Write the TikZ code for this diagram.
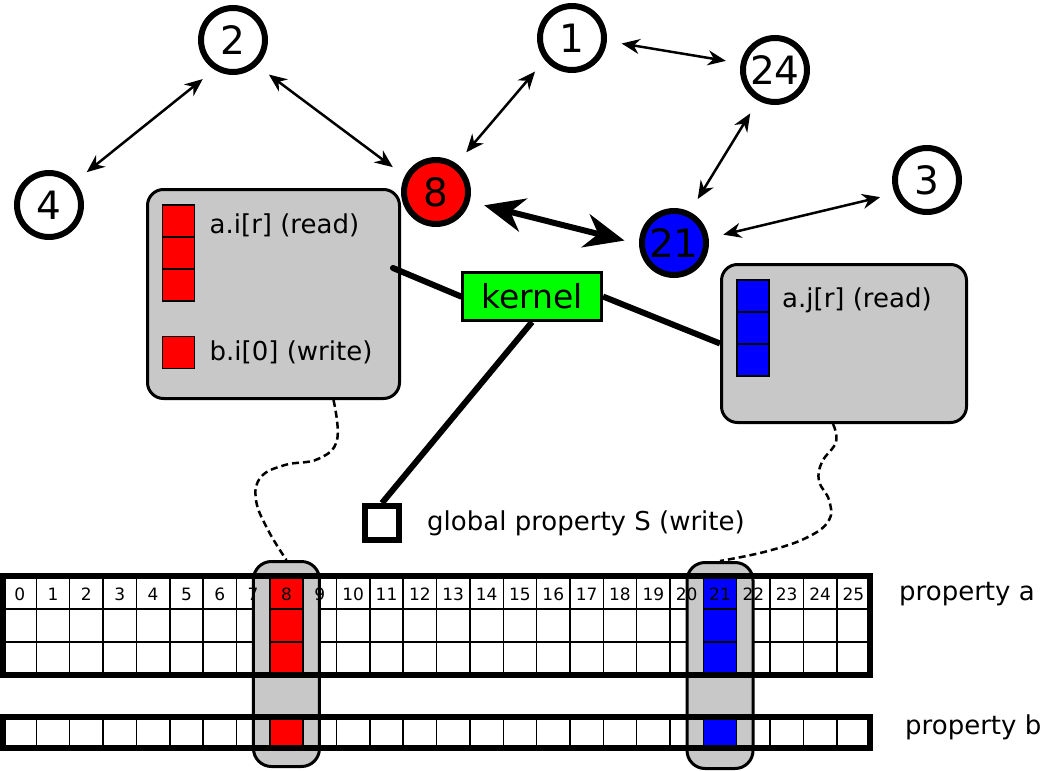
\documentclass[tikz,border=0pt]{standalone}
\usepackage{fontspec}
\setmainfont{DejaVu Sans}
\usepackage{tikz}
\usetikzlibrary{arrows.meta, positioning}
\definecolor{boxgray}{RGB}{200,200,200}

\begin{document}
\begin{tikzpicture}[
    x=1pt, y=-1pt,
    vertex/.style={draw, circle, line width=6pt, minimum size=64pt, inner sep=0pt, font=\fontsize{39}{41}\selectfont},
    link/.style={{Stealth[length=18pt,width=15pt]}-{Stealth[length=18pt,width=15pt]}, line width=2.5pt, shorten >=15pt, shorten <=15pt},
    biglink/.style={{Stealth[length=40pt,width=34pt]}-{Stealth[length=40pt,width=34pt]}, line width=6pt, shorten >=15pt, shorten <=15pt},
    panel/.style={draw, rectangle, rounded corners=16pt, fill=boxgray, line width=3pt},
    slot/.style={draw, rectangle, line width=1.5pt, minimum size=32pt, inner sep=0pt, outer sep=0pt},
    txt/.style={font=\fontsize{26}{30}\selectfont, inner sep=0pt},
    cellnum/.style={font=\fontsize{17}{19}\selectfont, inner sep=0pt},
    wire/.style={line width=6pt},
    dots/.style={dash pattern=on 7pt off 4pt, line width=2.5pt},
    gridline/.style={line width=1.5pt},
    frame/.style={line width=6pt},
    highlight/.style={draw, rectangle, rounded corners=18pt, fill=boxgray, line width=3pt, minimum width=66pt}
]
\path[fill=white] (0,0) rectangle (1042,771);
\useasboundingbox (0,0) rectangle (1042,771);
\def\cw{33.35}

% property arrays
\foreach \i in {1,...,25} \draw[gridline] ({3+\i*\cw},576) -- ({3+\i*\cw},675);
\draw[gridline] (3,609) -- (870,609);
\draw[gridline] (3,642) -- (870,642);
\foreach \i in {1,...,25} \draw[gridline] ({3+\i*\cw},717) -- ({3+\i*\cw},748);

\node[highlight, minimum height=205pt] (hl8) at ({3+8.5*\cw},664) {};
\node[highlight, minimum height=206pt] (hl21) at ({3+21.5*\cw},665.5) {};

\foreach \r in {0,1,2} {
    \draw[gridline, fill=red] ({3+8*\cw},{576+33*\r}) rectangle +(\cw,33);
    \draw[gridline, fill=blue] ({3+21*\cw},{576+33*\r}) rectangle +(\cw,33);
}
\draw[gridline, fill=red] ({3+8*\cw},717) rectangle +(\cw,31);
\draw[gridline, fill=blue] ({3+21*\cw},717) rectangle +(\cw,31);

\foreach \i in {0,...,25} \node[cellnum] (num\i) at ({3+(\i+0.5)*\cw},594) {\i};

\draw[frame] (3,576) rectangle (870,675);
\draw[frame] (3,717) rectangle (870,748);

\node[txt, anchor=west] (propa) at (899,594) {property a};
\node[txt, anchor=west] (propb) at (905,727) {property b};

% left and right work boxes
\node[panel, minimum width=252pt, minimum height=209pt] (lbox) at (273.5,294) {};
\node[panel, minimum width=245pt, minimum height=158pt] (rbox) at (844,343.5) {};

\node[slot, fill=red] (ra1) at (178.5,221) {};
\node[slot, fill=red, below=0pt of ra1] (ra2) {};
\node[slot, fill=red, below=0pt of ra2] (ra3) {};
\node[slot, fill=red] (rb) at (178.5,352.5) {};
\node[txt, right=15pt of ra1, yshift=-4pt] (readi) {a.i[r] (read)};
\node[txt, right=15pt of rb] (writei) {b.i[0] (write)};

\node[slot, fill=blue] (ba1) at (753,296) {};
\node[slot, fill=blue, below=0pt of ba1] (ba2) {};
\node[slot, fill=blue, below=0pt of ba2] (ba3) {};
\node[txt, right=13pt of ba1, yshift=-4pt] (readj) {a.j[r] (read)};

\draw[dots] plot[smooth, tension=0.7] coordinates {([xshift=60pt]lbox.south) (337,440) (318,459) (285,465) (261,477) (256,500) (268,530) (hl8.north)};
\draw[dots] plot[smooth, tension=0.7] coordinates {([xshift=-11pt]rbox.south) (836,442) (822,462) (819,481) (829,500) (829,520) (808,537) (768,551) (hl21.north)};

% kernel and global property
\node[draw, fill=green, line width=3pt, minimum width=139pt, minimum height=48pt, font=\fontsize{33}{36}\selectfont] (kernel) at (532,296.5) {kernel};
\node[draw, fill=white, line width=6pt, minimum size=34pt, inner sep=0pt] (sqS) at (382,523) {};
\node[txt, right=25pt of sqS] (glob) {global property S (write)};

\coordinate (lend) at (393,268);
\draw[wire, line cap=round] (lend) -- (kernel.west);
\draw[wire] (kernel.east) -- (rbox.west);
\draw[wire] (kernel.south) -- (sqS.north);

% particles
\node[vertex] (n2) at (233,40) {2};
\node[vertex] (n1) at (572,38) {1};
\node[vertex] (n24) at (775,70) {24};
\node[vertex] (n4) at (49,205) {4};
\node[vertex] (n3) at (927,180) {3};
\node[vertex, fill=red] (n8) at (436,192) {8};
\node[vertex, fill=blue] (n21) at (674,243) {21};

\draw[link] (n4.42) -- (n2.238);
\draw[link] (n2.313) -- (n8.153);
\draw[link] (n8.54) -- (n1.219);
\draw[link] (n1.-5) -- (n24.169);
\draw[link] (n24.241) -- (n21.63);
\draw[link] (n21.8) -- (n3.203);
\draw[biglink] (n8.-16) -- (n21.182);

\end{tikzpicture}
\end{document}
